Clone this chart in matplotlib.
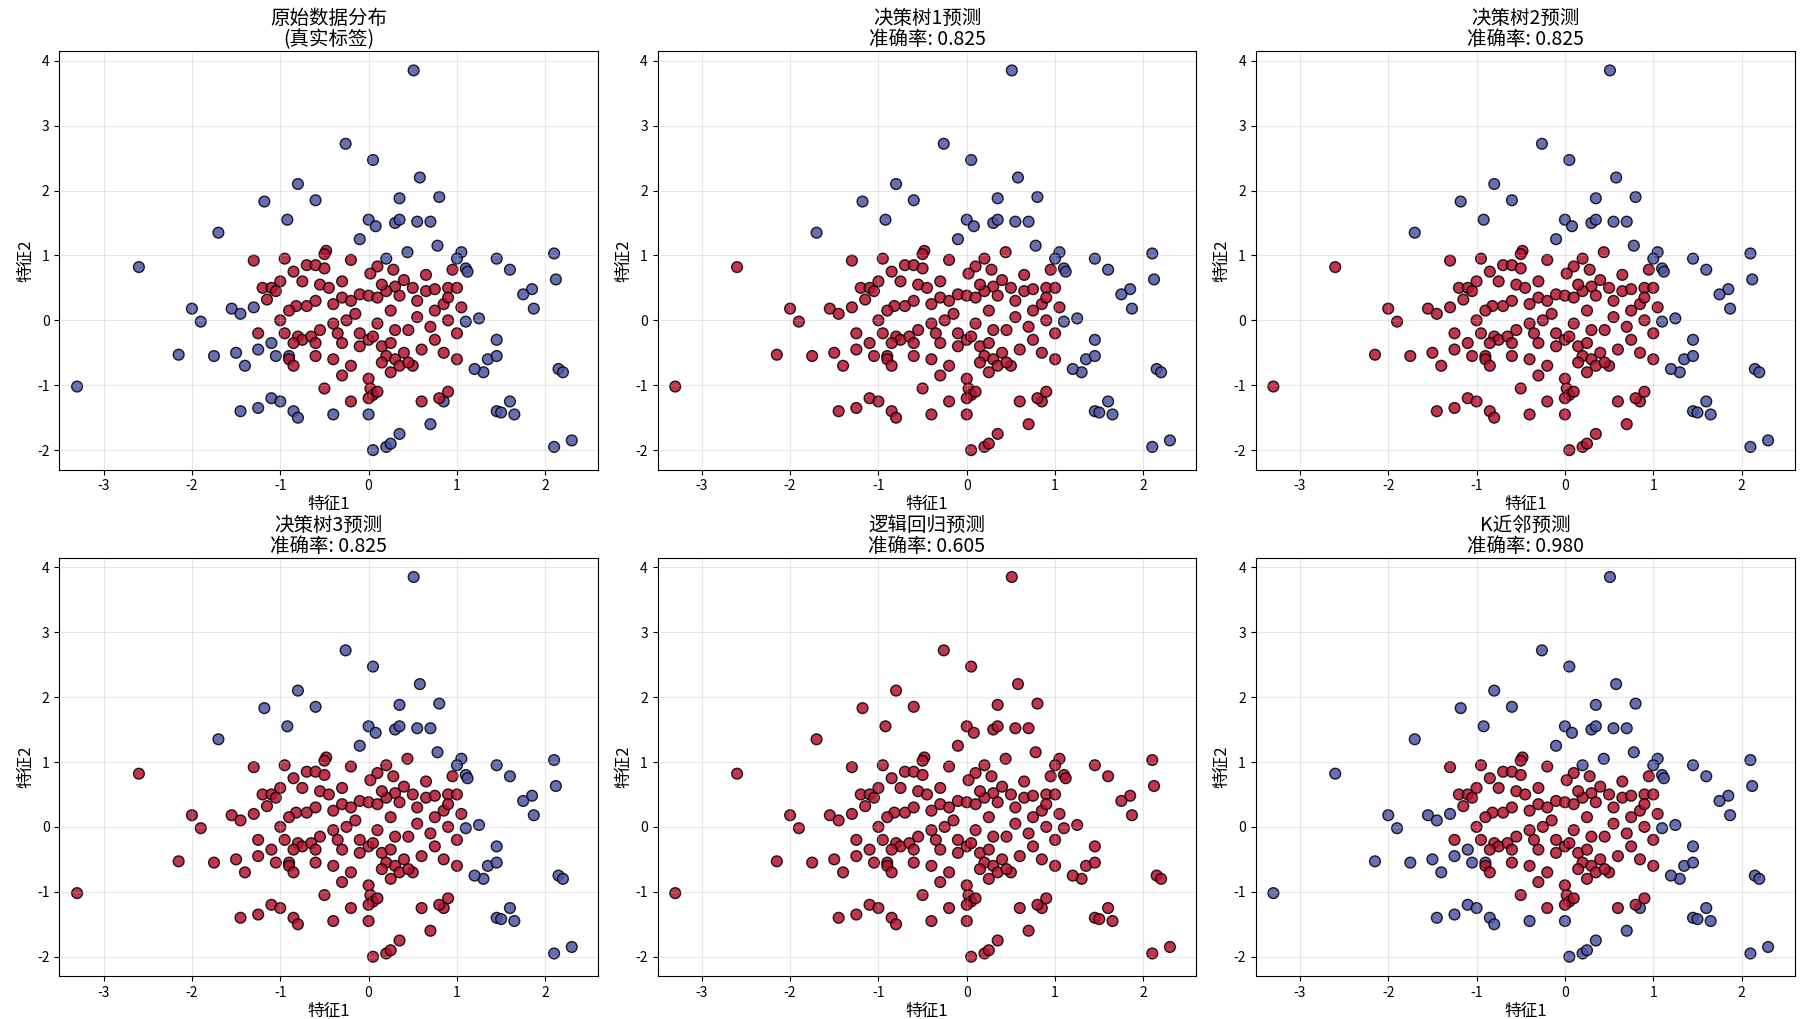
import numpy as np
import matplotlib
matplotlib.use('Agg')
import matplotlib.pyplot as plt

plt.rcParams['font.family'] = ['Noto Sans CJK SC', 'DejaVu Sans']
plt.rcParams['axes.unicode_minus'] = False

# outer class (label 1), upper group
blue_top = [(0.51, 3.85), (-0.26, 2.72), (0.05, 2.47), (0.58, 2.2), (-0.8, 2.1), (-1.18, 1.83),
            (0.35, 1.88), (0.8, 1.9), (-0.6, 1.85), (-0.92, 1.55), (-1.7, 1.35), (0.0, 1.55),
            (0.08, 1.45), (0.3, 1.5), (0.35, 1.55), (0.55, 1.52), (0.7, 1.52), (0.78, 1.15),
            (-0.1, 1.25)]
# outer class, right group
blue_right = [(1.05, 1.05), (1.0, 0.95), (1.45, 0.95), (1.1, 0.8), (1.12, 0.75), (1.6, 0.78),
              (2.1, 1.03), (2.12, 0.63), (1.85, 0.48), (1.75, 0.4), (1.87, 0.18), (1.3, -0.8),
              (1.35, -0.6), (1.2, -0.75), (1.45, -0.55), (1.45, -0.3), (1.25, 0.03), (1.1, -0.02),
              (1.45, -1.4), (1.5, -1.42), (1.6, -1.25), (1.65, -1.45), (2.15, -0.75), (2.2, -0.8),
              (2.1, -1.95), (2.3, -1.85)]
# outer class, left / bottom group
blue_other = [(0.44, 1.05), (0.2, 0.95), (-2.6, 0.82), (-2.0, 0.18), (-1.9, -0.02), (-1.55, 0.18),
              (-1.45, 0.1), (-1.3, 0.2), (-1.75, -0.55), (-1.5, -0.5), (-1.4, -0.7), (-1.1, -0.35),
              (-1.25, -0.45), (-1.05, -0.55), (-0.9, -0.55), (-2.15, -0.53), (-3.3, -1.02),
              (-1.45, -1.4), (-1.25, -1.35), (-1.1, -1.2), (-1.0, -1.25), (-0.85, -1.4), (-0.8, -1.5),
              (-0.4, -1.45), (0.0, -1.45), (0.05, -2.0), (0.2, -1.95), (0.25, -1.9), (0.35, -1.75),
              (0.7, -1.6), (0.85, -1.25)]
# inner class (label 0)
red = [(-0.48, 1.07), (-0.5, 1.02), (-0.2, 0.93), (0.1, 0.83), (0.28, 0.78), (-0.95, 0.95),
       (-0.85, 0.75), (-0.7, 0.85), (-0.6, 0.85), (-0.75, 0.6), (-0.55, 0.55), (-0.45, 0.5),
       (0.02, 0.72), (0.3, 0.52), (0.4, 0.62), (0.5, 0.5), (0.65, 0.45), (0.75, 0.48), (0.9, 0.5),
       (0.95, 0.78), (-1.3, 0.92), (-1.2, 0.5), (-1.1, 0.5), (-1.05, 0.45), (-1.0, 0.6),
       (-1.15, 0.32), (-0.82, 0.22), (-0.7, 0.22), (-0.6, 0.3), (-0.4, 0.25), (-0.3, 0.35),
       (-0.2, 0.3), (-0.1, 0.4), (0.0, 0.38), (0.1, 0.35), (0.2, 0.45), (0.35, 0.38), (0.55, 0.3),
       (0.75, 0.15), (0.85, 0.25), (0.9, 0.35), (1.0, 0.5), (-1.0, 0.0), (-0.9, 0.15),
       (-0.8, -0.25), (-0.75, -0.3), (-0.85, -0.35), (-0.95, -0.2), (-0.65, -0.25), (-0.9, -0.6),
       (-0.85, -0.7), (-0.6, -0.35), (-0.55, -0.15), (-0.4, -0.05), (-0.25, 0.0), (-0.1, -0.2),
       (0.0, -0.3), (0.05, -0.25), (0.15, -0.4), (0.2, -0.55), (0.3, -0.6), (0.4, -0.5),
       (0.5, -0.7), (0.6, -0.45), (0.7, -0.1), (0.75, -0.3), (0.9, 0.0), (1.0, -0.6), (1.0, -0.2),
       (0.55, 0.05), (0.45, -0.15), (0.3, -0.15), (0.1, -0.05), (-0.6, -0.55), (-0.4, -0.6),
       (-0.2, -0.7), (0.0, -0.9), (0.02, -1.05), (0.05, -1.15), (0.0, -1.2), (0.1, -1.1),
       (0.25, -0.8), (0.35, -0.7), (0.45, -0.65), (-0.1, -0.4), (-0.3, -0.35), (-0.5, -1.05),
       (-0.2, -1.25), (0.6, -1.25), (0.8, -1.2), (0.9, -1.1), (-0.3, -0.85), (0.15, -0.65),
       (0.25, -0.35), (0.65, 0.7), (0.15, 0.55), (-0.3, 0.6), (-0.15, 0.1), (-0.35, -0.2),
       (-1.25, -0.2), (0.85, -0.5), (1.05, 0.2), (0.25, 0.15), (-0.5, 0.8)]

titles = ['原始数据分布\n(真实标签)', '决策树1预测\n准确率: 0.825', '决策树2预测\n准确率: 0.825',
          '决策树3预测\n准确率: 0.825', '逻辑回归预测\n准确率: 0.605', 'K近邻预测\n准确率: 0.980']
# which groups are predicted as class 1 in each panel: (top, right, other, red)
pred_groups = [(1, 1, 1, 0), (1, 1, 0, 0), (1, 1, 0, 0), (1, 1, 0, 0), (0, 0, 0, 0), (1, 1, 1, 0)]

groups = [blue_top, blue_right, blue_other, red]
pts = np.array(sum(groups, []))

c_blue = '#4b56a6'
c_red = '#b8122e'

fig, axes = plt.subplots(2, 3, figsize=(18, 10.19), dpi=100)
for ax, title, pg in zip(axes.flat, titles, pred_groups):
    labels = sum([[flag] * len(g) for flag, g in zip(pg, groups)], [])
    colors = [c_blue if l else c_red for l in labels]
    ax.scatter(pts[:, 0], pts[:, 1], c=colors, s=60, alpha=0.85, edgecolors='black', linewidths=1)
    ax.set_title(title, fontsize=14, linespacing=1.0, pad=4)
    ax.set_xlabel('特征1', fontsize=12, labelpad=2)
    ax.set_ylabel('特征2', fontsize=12, labelpad=2)
    ax.set_xlim(-3.5, 2.6)
    ax.set_ylim(-2.3, 4.15)
    ax.grid(True, alpha=0.3)

plt.subplots_adjust(left=0.033, right=0.997, top=0.95, bottom=0.042, wspace=0.11, hspace=0.21)
plt.savefig('out.png')
